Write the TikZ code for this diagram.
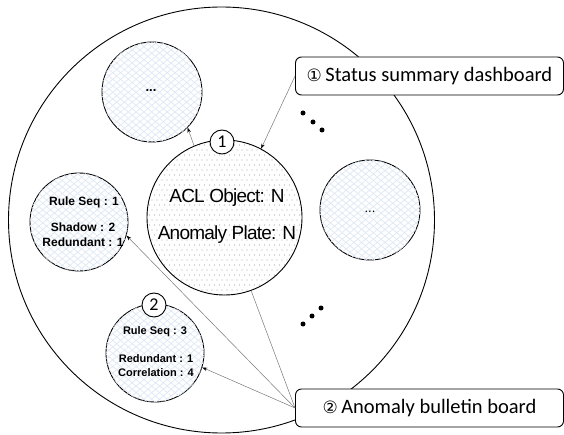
\documentclass[tikz,border=0pt]{standalone}
\usepackage{fontspec}
\setmainfont{Liberation Sans}
\newfontfamily\calfont{Carlito}
\newfontfamily\dvfont{DejaVu Sans}
\newfontfamily\aclfont[LetterSpace=-4]{Liberation Sans}
\usetikzlibrary{patterns.meta,arrows.meta}
\definecolor{hatch}{RGB}{222,232,245}
\definecolor{conn}{RGB}{120,120,120}
\definecolor{dotc}{RGB}{175,175,175}
\tikzset{
  outer/.style={circle,draw=black,line width=0.9pt,minimum size=426pt,inner sep=0pt},
  bigc/.style={circle,draw=black,line width=0.9pt,minimum size=155pt,inner sep=0pt},
  subc/.style={circle,draw=black,line width=0.9pt,minimum size=#1,inner sep=0pt,fill=white,
    postaction={pattern={Lines[angle=40,distance=5pt,line width=0.7pt]},pattern color=hatch},
    postaction={pattern={Lines[angle=-40,distance=5pt,line width=0.7pt]},pattern color=hatch}},
  numc/.style={circle,draw=black,line width=0.9pt,minimum size=24pt,inner sep=0pt,fill=white,font=\calfont\fontsize{18}{20}\selectfont},
  label box/.style={draw=black,line width=0.9pt,rounded corners=6pt,fill=white,minimum width=268pt,minimum height=38pt,inner sep=0pt,font=\calfont\fontsize{20.5}{24}\selectfont},
  conn/.style={draw=conn,line width=0.5pt},
  connarr/.style={conn,-{Stealth[length=5pt,width=3.5pt,fill=black,color=black]}},
  bolda/.style={font=\bfseries\fontsize{12}{15}\selectfont,align=center,inner sep=0pt},
  boldb/.style={font=\bfseries\fontsize{11}{14}\selectfont,align=center,inner sep=0pt},
  bullet/.style={circle,fill=black,minimum size=5pt,inner sep=0pt},
}
\begin{document}
\begin{tikzpicture}[x=1pt,y=-1pt]
\useasboundingbox (0,0) rectangle (564,435);
\node[outer] (outer) at (221.5,220) {};
\node[subc=100pt] (tl) at (152,92) {};
\node[font=\bfseries\fontsize{13}{15}\selectfont] (tldots) at (151,91) {...};
\node[subc=100pt] (rc) at (370,210) {};
\node[font=\fontsize{13}{15}\selectfont] (rcdots) at (370,212) {...};
\node[subc=98pt] (rs1) at (79,222) {};
\node[subc=98pt] (rs3) at (155,353) {};
\begin{scope}
  \fill[white] (224.5,217.5) circle[radius=77.5];
  \clip (224.5,217.5) circle[radius=77.5];
  \foreach \i in {0,...,32}{
    \foreach \j in {0,...,32}{
      \pgfmathsetmacro{\xo}{mod(\j,2)*2.5}
      \fill[dotc] (147+\i*5+\xo,140+\j*5) circle[radius=0.6];
    }
  }
\end{scope}
\node[bigc] (acl) at (224.5,217.5) {};
\node[font=\aclfont\fontsize{19}{21}\selectfont,inner sep=0pt] (acl1) at (227,198) {ACL Object: N};
\node[font=\aclfont\fontsize{19}{21}\selectfont,inner sep=0pt] (acl2) at (227,235) {Anomaly Plate: N};
\node[numc] (n1) at (222,142) {1};
\node[numc] (n2) at (154,305) {2};
\node[bolda] (rs1a) at (84,202) {Rule Seq : 1};
\node[bolda] (rs1b) at (83,234.5) {Shadow : 2\\Redundant : 1};
\node[boldb] (rs3a) at (155,332) {Rule Seq : 3};
\node[boldb] (rs3b) at (156,366) {Redundant : 1\\Correlation : 4};
\node[bullet] (d1) at (303,113) {};
\node[bullet] (d2) at (313,122) {};
\node[bullet] (d3) at (322,130) {};
\node[bullet] (d4) at (303,324) {};
\node[bullet] (d5) at (312,316) {};
\node[bullet] (d6) at (321,308) {};
\node[label box] (status) at (429.5,76) {{\dvfont\fontsize{17}{20}\selectfont①}\,Status summary dashboard};
\node[label box] (anom) at (429.5,408) {{\dvfont\fontsize{17}{20}\selectfont②}\,Anomaly bulletin board};
\draw[connarr] (status.west) -- (acl.62);
\draw[connarr] (acl.113) -- (tl.-45);
\draw[connarr] (anom.west) -- (rs1.-16);
\draw[connarr] (anom.west) -- (rs3.-17);
\draw[conn] (anom.west) -- (acl.-70);
\end{tikzpicture}
\end{document}
